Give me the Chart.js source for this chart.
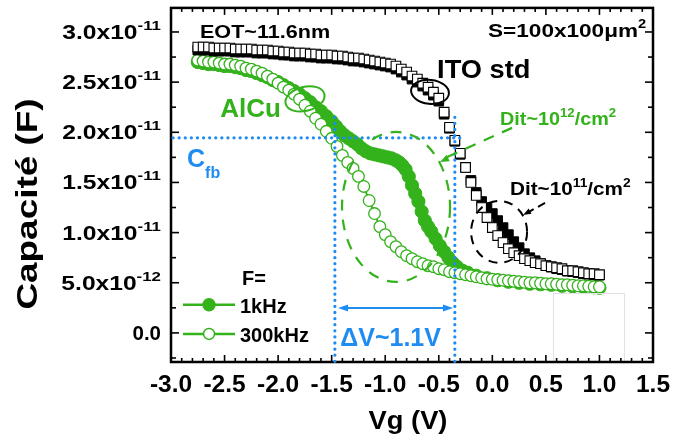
<!DOCTYPE html>
<html><head><meta charset="utf-8">
<script src="https://cdn.jsdelivr.net/npm/chart.js@4/dist/chart.umd.min.js"></script>
<style>html,body{margin:0;padding:0;background:#fff;}canvas{display:block;}</style>
</head><body>
<canvas id="c" width="673" height="443"></canvas>
<script>
// ---- data (capacitance in units of 1e-11 F, gate voltage in V) ----
const ITO_V = [-2.75,-2.70,-2.65,-2.60,-2.55,-2.50,-2.45,-2.40,-2.35,-2.30,-2.25,-2.20,-2.15,-2.10,-2.05,-2.00,-1.95,-1.90,-1.85,-1.80,-1.75,-1.70,-1.65,-1.60,-1.55,-1.50,-1.45,-1.40,-1.35,-1.30,-1.25,-1.20,-1.15,-1.10,-1.05,-1.00,-0.95,-0.90,-0.85,-0.80,-0.75,-0.70,-0.65,-0.60,-0.55,-0.50,-0.45,-0.40,-0.35,-0.30,-0.25,-0.20,-0.15,-0.10,-0.05,0.00,0.05,0.10,0.15,0.20,0.25,0.30,0.35,0.40,0.45,0.50,0.55,0.60,0.65,0.70,0.75,0.80,0.85,0.90,0.95,1.00];
const ITO_300K = [2.85,2.85,2.85,2.84,2.84,2.84,2.84,2.83,2.83,2.83,2.83,2.82,2.82,2.82,2.81,2.81,2.80,2.80,2.79,2.79,2.79,2.78,2.78,2.77,2.77,2.77,2.76,2.76,2.75,2.74,2.74,2.73,2.72,2.71,2.70,2.69,2.68,2.66,2.63,2.60,2.56,2.53,2.49,2.45,2.40,2.34,2.20,2.05,1.92,1.79,1.65,1.50,1.37,1.25,1.15,1.05,0.97,0.90,0.84,0.80,0.77,0.74,0.72,0.70,0.69,0.67,0.66,0.65,0.64,0.62,0.62,0.61,0.60,0.59,0.59,0.58];
const ITO_1K = [2.82,2.82,2.82,2.81,2.81,2.81,2.81,2.80,2.80,2.80,2.80,2.79,2.79,2.79,2.78,2.78,2.77,2.77,2.76,2.76,2.76,2.75,2.75,2.74,2.74,2.74,2.73,2.73,2.72,2.71,2.71,2.70,2.69,2.68,2.67,2.66,2.65,2.63,2.60,2.57,2.53,2.50,2.46,2.42,2.37,2.31,2.18,2.04,1.91,1.78,1.65,1.52,1.40,1.31,1.25,1.19,1.12,1.05,0.98,0.91,0.85,0.79,0.75,0.72,0.69,0.67,0.655,0.64,0.63,0.615,0.61,0.60,0.59,0.585,0.58,0.575];
const ALCU_300K_V = [-2.75,-2.70,-2.65,-2.60,-2.55,-2.50,-2.45,-2.40,-2.35,-2.30,-2.25,-2.20,-2.15,-2.10,-2.05,-2.00,-1.95,-1.90,-1.85,-1.80,-1.75,-1.70,-1.65,-1.60,-1.55,-1.50,-1.45,-1.40,-1.35,-1.30,-1.25,-1.20,-1.15,-1.10,-1.05,-1.00,-0.95,-0.90,-0.85,-0.80,-0.75,-0.70,-0.65,-0.60,-0.55,-0.50,-0.45,-0.40,-0.35,-0.30,-0.25,-0.20,-0.15,-0.10,-0.05,0.00,0.05,0.10,0.15,0.20,0.25,0.30,0.35,0.40,0.45,0.50,0.55,0.60,0.65,0.70,0.75,0.80,0.85,0.90,0.95,1.00];
const ALCU_300K = [2.72,2.71,2.70,2.70,2.69,2.68,2.68,2.67,2.66,2.64,2.63,2.61,2.59,2.56,2.53,2.49,2.45,2.42,2.38,2.33,2.27,2.21,2.14,2.08,2.01,1.94,1.86,1.77,1.70,1.64,1.56,1.46,1.32,1.19,1.06,0.98,0.91,0.86,0.81,0.77,0.74,0.71,0.69,0.67,0.66,0.64,0.63,0.61,0.60,0.59,0.58,0.57,0.56,0.55,0.54,0.535,0.53,0.525,0.52,0.515,0.51,0.505,0.50,0.50,0.495,0.49,0.49,0.485,0.48,0.48,0.475,0.47,0.47,0.465,0.46,0.46];
const ALCU_1K_V = [-2.75,-2.70,-2.65,-2.60,-2.55,-2.50,-2.45,-2.40,-2.35,-2.30,-2.25,-2.20,-2.15,-2.10,-2.05,-2.00,-1.95,-1.90,-1.85,-1.80,-1.75,-1.70,-1.65,-1.60,-1.55,-1.50,-1.46,-1.42,-1.38,-1.34,-1.30,-1.26,-1.22,-1.18,-1.14,-1.10,-1.06,-1.02,-0.98,-0.94,-0.90,-0.87,-0.84,-0.81,-0.78,-0.75,-0.72,-0.69,-0.66,-0.63,-0.60,-0.57,-0.53,-0.49,-0.45,-0.41,-0.37,-0.33,-0.28,-0.23,-0.15,-0.05,0.05,0.15,0.25,0.35,0.45,0.55,0.65,0.75,0.85,0.95,1.00];
const ALCU_1K = [2.70,2.69,2.68,2.68,2.67,2.66,2.66,2.65,2.64,2.62,2.61,2.59,2.57,2.55,2.52,2.50,2.47,2.44,2.41,2.38,2.34,2.30,2.25,2.21,2.16,2.11,2.06,2.01,1.97,1.94,1.91,1.88,1.84,1.81,1.79,1.78,1.77,1.76,1.75,1.74,1.72,1.70,1.67,1.63,1.56,1.47,1.39,1.31,1.21,1.12,1.06,1.01,0.94,0.87,0.81,0.75,0.70,0.66,0.62,0.60,0.57,0.545,0.525,0.51,0.50,0.49,0.485,0.48,0.47,0.465,0.46,0.455,0.45];

const X_TICKS = [-3.0,-2.5,-2.0,-1.5,-1.0,-0.5,0.0,0.5,1.0,1.5];
const X_TICK_LABELS = ['-3.0','-2.5','-2.0','-1.5','-1.0','-0.5','0.0','0.5','1.0','1.5'];
const Y_TICKS = [0,0.5,1.0,1.5,2.0,2.5,3.0];
const Y_TICK_BASE = ['0.0','5.0x10','1.0x10','1.5x10','2.0x10','2.5x10','3.0x10'];
const Y_TICK_EXP = ['','-12','-11','-11','-11','-11','-11'];

const GREEN = 'rgb(52,178,28)';
const BLUE = 'rgb(30,140,240)';
const FONT = '"Liberation Sans", Arial, sans-serif';

function pts(vs, cs){ return vs.map((v,i)=>({x:v,y:cs[i]})); }

// parts: [text, size, dy, sx]
function rich(ctx, parts, x, y, align, color, sx){
  sx = sx || 1;
  let total = 0;
  parts.forEach(p=>{ ctx.font = 'bold '+p[1]+'px '+FONT; p.s = p[3]||sx; p.w = ctx.measureText(p[0]).width*p.s; total += p.w; });
  let cx = align==='right' ? x-total : (align==='center' ? x-total/2 : x);
  parts.forEach(p=>{
    ctx.save();
    ctx.font = 'bold '+p[1]+'px '+FONT;
    ctx.fillStyle = color; ctx.textAlign='left'; ctx.textBaseline='alphabetic';
    ctx.translate(cx, y + (p[2]||0)); ctx.scale(p.s,1);
    ctx.fillText(p[0],0,0);
    ctx.restore();
    cx += p.w;
  });
}

function dashedEllipse(ctx, cx, cy, rx, ry, rot, color, dash, lw){
  ctx.save(); ctx.strokeStyle=color; ctx.lineWidth=lw; ctx.setLineDash(dash);
  ctx.beginPath(); ctx.ellipse(cx,cy,rx,ry,rot,0,Math.PI*2); ctx.stroke(); ctx.restore();
}
function arrowHead(ctx, x1,y1,x2,y2,len,wid,color){
  const a = Math.atan2(y2-y1,x2-x1);
  ctx.save(); ctx.fillStyle=color; ctx.translate(x2,y2); ctx.rotate(a);
  ctx.beginPath(); ctx.moveTo(0,0); ctx.lineTo(-len,-wid/2); ctx.lineTo(-len,wid/2); ctx.closePath(); ctx.fill(); ctx.restore();
}

const decor = {
  id:'decor',
  afterDraw(chart){
    const ctx = chart.ctx, xs = chart.scales.x, ys = chart.scales.y, a = chart.chartArea;
    const X = v=>xs.getPixelForValue(v), Y = v=>ys.getPixelForValue(v);
    ctx.save();
    // faint box (artifact in original)
    ctx.strokeStyle='#e2e2e2'; ctx.lineWidth=1;
    ctx.strokeRect(Math.round(X(0.567))+0.5, Math.round(Y(0.40))+0.5, X(1.23)-X(0.567), Y(-0.28)-Y(0.40));
    // frame
    ctx.strokeStyle='#000'; ctx.lineWidth=2.5;
    ctx.strokeRect(a.left, a.top, a.right-a.left, a.bottom-a.top);
    // ticks (inward, all four sides)
    ctx.lineWidth=1.6;
    for(let k=-30;k<=15;k++){
      const v=k/10, px=X(v), major = (k%5===0), L = major?7:4;
      ctx.beginPath(); ctx.moveTo(px,a.bottom); ctx.lineTo(px,a.bottom-L); ctx.stroke();
      ctx.beginPath(); ctx.moveTo(px,a.top); ctx.lineTo(px,a.top+L); ctx.stroke();
    }
    for(let k=-1;k<=13;k++){
      const v=k*0.25, py=Y(v), major=(k%2===0), L=major?8:5;
      if(py<a.top+2||py>a.bottom-2) continue;
      ctx.beginPath(); ctx.moveTo(a.left,py); ctx.lineTo(a.left+L,py); ctx.stroke();
      ctx.beginPath(); ctx.moveTo(a.right,py); ctx.lineTo(a.right-L,py); ctx.stroke();
    }
    // x tick labels
    X_TICKS.forEach((v,i)=>rich(ctx,[[X_TICK_LABELS[i],24.5]],X(v),392,'center','#000'));
    // y tick labels
    Y_TICKS.forEach((v,i)=>{
      const parts=[[Y_TICK_BASE[i],20.5,0,Y_TICK_EXP[i]?1.2:1]];
      if(Y_TICK_EXP[i]) parts.push([Y_TICK_EXP[i],12.5,-9,1.35]);
      rich(ctx,parts,161,Y(v)+7,'right','#000');
    });
    // axis titles
    rich(ctx,[['Vg (V)',26]],408,429,'center','#000',1.05);
    ctx.save(); ctx.translate(37,204); ctx.rotate(-Math.PI/2);
    rich(ctx,[['Capacité (F)',30]],0,0,'center','#000',1.23);
    ctx.restore();

    // Cfb dotted lines
    ctx.save(); ctx.strokeStyle=BLUE; ctx.lineWidth=3.2; ctx.lineCap='round'; ctx.setLineDash([0.1,6]);
    ctx.beginPath(); ctx.moveTo(a.left+2,Y(1.945)); ctx.lineTo(X(-0.27),Y(1.945)); ctx.stroke();
    ctx.beginPath(); ctx.moveTo(X(-1.47),Y(2.15)); ctx.lineTo(X(-1.47),a.bottom); ctx.stroke();
    ctx.beginPath(); ctx.moveTo(X(-0.35),Y(2.15)); ctx.lineTo(X(-0.35),a.bottom); ctx.stroke();
    ctx.restore();
    // double arrow
    ctx.save(); ctx.strokeStyle=BLUE; ctx.lineWidth=2;
    const ay=Y(0.249), ax1=X(-1.44), ax2=X(-0.367);
    ctx.beginPath(); ctx.moveTo(ax1+6,ay); ctx.lineTo(ax2-6,ay); ctx.stroke(); ctx.restore();
    arrowHead(ctx,ax2,ay,ax1,ay,10,7,BLUE);
    arrowHead(ctx,ax1,ay,ax2,ay,10,7,BLUE);
    rich(ctx,[['ΔV~1.1V',25]],X(-1.42),Y(-0.13),'left',BLUE);
    rich(ctx,[['C',25],['fb',16,11]],X(-2.85),Y(1.655),'left',BLUE);

    // green dashed ellipse + arrow
    dashedEllipse(ctx,X(-0.899),Y(1.256),54,75,0,GREEN,[11,9],2.2);
    ctx.save(); ctx.strokeStyle=GREEN; ctx.lineWidth=2.2; ctx.setLineDash([11,9]);
    ctx.beginPath(); ctx.moveTo(X(0.184),Y(2.044)); ctx.lineTo(X(-0.44),Y(1.745)); ctx.stroke(); ctx.restore();
    arrowHead(ctx,X(0.184),Y(2.044),X(-0.488),Y(1.705),9,7,GREEN);
    rich(ctx,[['Dit~10',18],['12',12,-8],['/cm',18],['2',12,-8]],X(0.072),Y(2.07),'left',GREEN,1.1);

    // black dashed ellipse + arrow
    dashedEllipse(ctx,X(0.063),Y(1.007),28,31,0,'#000',[9,7],2);
    ctx.save(); ctx.strokeStyle='#000'; ctx.lineWidth=2; ctx.setLineDash([8,5]);
    ctx.beginPath(); ctx.moveTo(X(0.492),Y(1.296)); ctx.lineTo(X(0.33),Y(1.2)); ctx.stroke(); ctx.restore();
    arrowHead(ctx,X(0.492),Y(1.296),X(0.287),Y(1.176),8,6,'#000');
    rich(ctx,[['Dit~10',18],['11',12,-8],['/cm',18],['2',12,-8]],X(0.165),Y(1.376),'left','#000',1.15);

    // solid ellipses
    ctx.save(); ctx.lineWidth=2;
    ctx.strokeStyle='#000'; ctx.beginPath(); ctx.ellipse(X(-0.582),Y(2.403),19,12,0.1,0,Math.PI*2); ctx.stroke();
    ctx.strokeStyle=GREEN; ctx.beginPath(); ctx.ellipse(X(-1.749),Y(2.333),20,12,-0.25,0,Math.PI*2); ctx.stroke();
    ctx.restore();

    // texts
    rich(ctx,[['EOT~11.6nm',18]],X(-2.73),Y(2.94),'left','#000',1.2);
    rich(ctx,[['S=100x100μm',18.5],['2',12,-9]],X(-0.04),Y(2.95),'left','#000',1.22);
    rich(ctx,[['ITO std',25]],X(-0.516),Y(2.54),'left','#000',1.09);
    rich(ctx,[['AlCu',26]],X(-2.54),Y(2.15),'left',GREEN);

    // legend
    rich(ctx,[['F=',20]],X(-2.337),Y(0.48),'left','#000');
    const lx1=X(-2.888), lx2=X(-2.402), lc=X(-2.645);
    [[Y(0.28),true,'1kHz',Y(0.20)],[Y(-0.01),false,'300kHz',Y(-0.09)]].forEach(r=>{
      ctx.save(); ctx.strokeStyle=GREEN; ctx.lineWidth=2.5;
      ctx.beginPath(); ctx.moveTo(lx1,r[0]); ctx.lineTo(lx2,r[0]); ctx.stroke();
      ctx.beginPath(); ctx.arc(lc,r[0],r[1]?6:5.5,0,Math.PI*2);
      ctx.fillStyle=r[1]?GREEN:'#fff'; ctx.fill(); ctx.lineWidth=1.5; ctx.stroke(); ctx.restore();
      rich(ctx,[[r[2],20]],X(-2.356),r[3],'left','#000');
    });
    ctx.restore();
  }
};

new Chart(document.getElementById('c'), {
  type:'scatter',
  data:{datasets:[
    {label:'ITO std 300kHz', data:pts(ITO_V,ITO_300K), showLine:false, pointStyle:'rect', pointRadius:6.8,
     pointBackgroundColor:'#fff', pointBorderColor:'#000', pointBorderWidth:1.1, order:1},
    {label:'ITO std 1kHz', data:pts(ITO_V,ITO_1K), showLine:false, pointStyle:'rect', pointRadius:6.8,
     pointBackgroundColor:'#000', pointBorderColor:'#000', pointBorderWidth:1, order:2},
    {label:'AlCu 300kHz', data:pts(ALCU_300K_V,ALCU_300K), showLine:true, borderColor:GREEN, borderWidth:2,
     pointStyle:'circle', pointRadius:5.8, pointBackgroundColor:'#fff', pointBorderColor:GREEN, pointBorderWidth:1.3, order:3},
    {label:'AlCu 1kHz', data:pts(ALCU_1K_V,ALCU_1K), showLine:true, borderColor:GREEN, borderWidth:2,
     pointStyle:'circle', pointRadius:6.6, pointBackgroundColor:GREEN, pointBorderColor:GREEN, pointBorderWidth:1, order:4}
  ]},
  options:{
    responsive:false, animation:false, devicePixelRatio:1,
    layout:{padding:{top:7,right:20,left:0,bottom:0}},
    plugins:{legend:{display:false}, tooltip:{enabled:false}},
    scales:{
      x:{type:'linear', min:-3, max:1.5, grid:{display:false}, border:{display:false}, ticks:{display:false},
         afterFit:s=>{s.height=81;}},
      y:{type:'linear', min:-0.29, max:3.24, grid:{display:false}, border:{display:false}, ticks:{display:false},
         afterFit:s=>{s.width=171;}}
    }
  },
  plugins:[decor]
});
</script>
</body></html>
